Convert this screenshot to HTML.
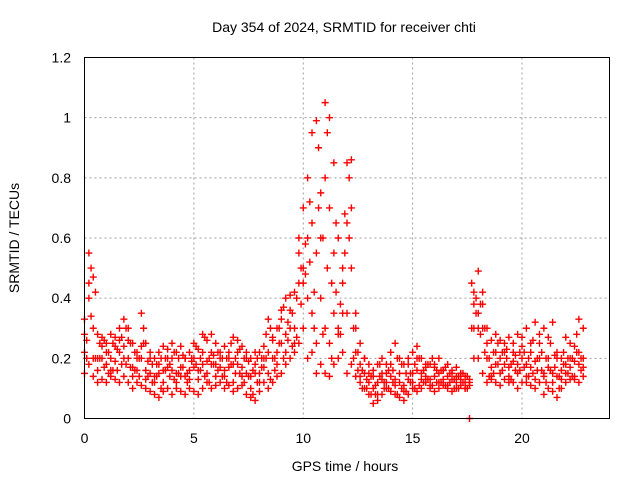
<!DOCTYPE html>
<html><head><meta charset="utf-8"><style>
body{margin:0;background:#fff}
svg{display:block;font-family:"Liberation Sans",sans-serif}
</style></head><body>
<svg id="chart" width="640" height="480">
<text x="344" y="32" text-anchor="middle" font-size="14">Day 354 of 2024, SRMTID for receiver chti</text>
<text x="345" y="471" text-anchor="middle" font-size="14">GPS time / hours</text>
<text transform="translate(19,238) rotate(-90)" text-anchor="middle" font-size="14">SRMTID / TECUs</text>
<g id="grid"></g><g id="ticks"></g><g id="marks"></g>
<rect x="84.5" y="57.5" width="525" height="361" fill="none" stroke="#000"/>
</svg>
<script>
const xTicks=[0,5,10,15,20];
const yTicks=[0,0.2,0.4,0.6,0.8,1,1.2];
const yTickLabels=["0","0.2","0.4","0.6","0.8","1","1.2"];
const times=[0,0.2,0.4,0.6,0.8,1,1.2,1.4,1.6,1.8,2,2.2,2.4,2.6,2.8,3,3.2,3.4,3.6,3.8,4,4.2,4.4,4.6,4.8,5,5.2,5.4,5.6,5.8,6,6.2,6.4,6.6,6.8,7,7.2,7.4,7.6,7.8,8,8.2,8.4,8.6,8.8,9,9.2,9.4,9.6,9.8,10,10.2,10.4,10.6,10.8,11,11.2,11.4,11.6,11.8,12,12.2,12.4,12.6,12.8,13,13.2,13.4,13.6,13.8,14,14.2,14.4,14.6,14.8,15,15.2,15.4,15.6,15.8,16,16.2,16.4,16.6,16.8,17,17.2,17.4,17.6,17.8,18,18.2,18.4,18.6,18.8,19,19.2,19.4,19.6,19.8,20,20.2,20.4,20.6,20.8,21,21.2,21.4,21.6,21.8,22,22.2,22.4,22.6,22.8];
const hiVals=[0.33,0.55,0.47,0.28,0.27,0.25,0.28,0.27,0.3,0.33,0.3,0.25,0.22,0.35,0.25,0.22,0.2,0.22,0.24,0.23,0.25,0.22,0.24,0.2,0.22,0.25,0.23,0.28,0.26,0.28,0.25,0.22,0.24,0.22,0.27,0.26,0.24,0.22,0.2,0.22,0.22,0.24,0.33,0.27,0.3,0.36,0.4,0.41,0.42,0.6,0.7,0.8,0.95,0.99,0.75,1.05,1.0,0.85,0.6,0.45,0.85,0.86,0.35,0.25,0.2,0.18,0.16,0.18,0.2,0.18,0.22,0.25,0.2,0.18,0.2,0.22,0.24,0.2,0.18,0.18,0.17,0.2,0.16,0.18,0.16,0.17,0.15,0.14,0.12,0.38,0.49,0.42,0.3,0.26,0.28,0.26,0.25,0.27,0.25,0.28,0.27,0.3,0.25,0.32,0.28,0.3,0.27,0.32,0.22,0.2,0.27,0.25,0.24,0.33,0.3];
const loVals=[0.15,0.18,0.14,0.12,0.13,0.12,0.14,0.13,0.12,0.14,0.12,0.1,0.12,0.11,0.1,0.09,0.08,0.07,0.09,0.1,0.08,0.1,0.09,0.08,0.1,0.09,0.08,0.1,0.12,0.1,0.11,0.12,0.1,0.11,0.09,0.1,0.11,0.08,0.07,0.06,0.09,0.12,0.1,0.12,0.14,0.15,0.18,0.2,0.22,0.25,0.3,0.2,0.22,0.15,0.18,0.15,0.14,0.18,0.2,0.22,0.15,0.18,0.14,0.12,0.1,0.08,0.05,0.06,0.08,0.1,0.09,0.08,0.07,0.06,0.08,0.1,0.09,0.1,0.12,0.1,0.09,0.1,0.11,0.1,0.09,0.1,0.11,0.1,0.0,0.2,0.2,0.15,0.12,0.13,0.12,0.11,0.13,0.12,0.12,0.1,0.12,0.12,0.11,0.1,0.12,0.08,0.1,0.09,0.07,0.1,0.12,0.13,0.14,0.12,0.14];
const midVals=[0.22,0.4,0.3,0.2,0.2,0.18,0.2,0.19,0.22,0.24,0.2,0.17,0.16,0.2,0.16,0.15,0.14,0.15,0.16,0.17,0.16,0.15,0.17,0.14,0.16,0.17,0.16,0.18,0.19,0.18,0.18,0.17,0.16,0.17,0.18,0.18,0.17,0.15,0.14,0.15,0.15,0.17,0.22,0.2,0.22,0.25,0.28,0.3,0.3,0.45,0.5,0.6,0.35,0.55,0.4,0.3,0.7,0.35,0.3,0.35,0.65,0.5,0.22,0.18,0.15,0.12,0.1,0.12,0.13,0.15,0.14,0.13,0.12,0.11,0.13,0.15,0.16,0.15,0.14,0.13,0.14,0.15,0.13,0.14,0.13,0.14,0.13,0.12,0.11,0.3,0.35,0.3,0.2,0.17,0.18,0.2,0.18,0.17,0.19,0.18,0.2,0.18,0.17,0.19,0.2,0.15,0.17,0.15,0.14,0.16,0.18,0.17,0.19,0.18,0.2];
const mid2Vals=[0.28,0.45,0.2,0.16,0.24,0.22,0.16,0.24,0.26,0.2,0.26,0.14,0.2,0.24,0.13,0.2,0.12,0.18,0.12,0.2,0.2,0.12,0.14,0.2,0.13,0.2,0.13,0.22,0.15,0.22,0.14,0.2,0.14,0.2,0.12,0.22,0.14,0.2,0.1,0.18,0.12,0.2,0.15,0.26,0.18,0.33,0.22,0.36,0.25,0.55,0.45,0.4,0.65,0.25,0.6,0.8,0.25,0.55,0.28,0.5,0.35,0.7,0.3,0.14,0.2,0.15,0.14,0.08,0.15,0.12,0.18,0.11,0.15,0.09,0.18,0.12,0.2,0.13,0.17,0.11,0.18,0.12,0.16,0.11,0.15,0.12,0.15,0.1,0.13,0.42,0.3,0.38,0.25,0.14,0.22,0.15,0.22,0.14,0.22,0.15,0.24,0.14,0.22,0.13,0.25,0.14,0.2,0.12,0.2,0.13,0.15,0.2,0.13,0.22,0.17];
const times2=[0.1,0.3,0.5,0.7,0.9,1.1,1.3,1.5,1.7,1.9,2.1,2.3,2.5,2.7,2.9,3.1,3.3,3.5,3.7,3.9,4.1,4.3,4.5,4.7,4.9,5.1,5.3,5.5,5.7,5.9,6.1,6.3,6.5,6.7,6.9,7.1,7.3,7.5,7.7,7.9,8.1,8.3,8.5,8.7,8.9,9.1,9.3,9.5,9.7,9.9,10.1,10.3,10.5,10.7,10.9,11.1,11.3,11.5,11.7,11.9,12.1,12.3,12.5,12.7,12.9,13.1,13.3,13.5,13.7,13.9,14.1,14.3,14.5,14.7,14.9,15.1,15.3,15.5,15.7,15.9,16.1,16.3,16.5,16.7,16.9,17.1,17.3,17.5,17.7,17.9,18.1,18.3,18.5,18.7,18.9,19.1,19.3,19.5,19.7,19.9,20.1,20.3,20.5,20.7,20.9,21.1,21.3,21.5,21.7,21.9,22.1,22.3,22.5,22.7];
const aVals=[0.2,0.5,0.42,0.25,0.17,0.22,0.16,0.23,0.18,0.3,0.17,0.22,0.14,0.3,0.19,0.12,0.18,0.1,0.2,0.14,0.22,0.15,0.21,0.12,0.19,0.24,0.16,0.27,0.12,0.21,0.16,0.2,0.12,0.25,0.15,0.23,0.12,0.19,0.08,0.2,0.17,0.28,0.13,0.2,0.3,0.37,0.26,0.35,0.4,0.5,0.58,0.72,0.42,0.9,0.6,0.95,0.45,0.65,0.38,0.68,0.8,0.3,0.16,0.1,0.13,0.08,0.11,0.14,0.1,0.16,0.12,0.2,0.1,0.15,0.12,0.18,0.11,0.16,0.13,0.2,0.12,0.16,0.11,0.15,0.1,0.14,0.12,0.1,0.45,0.35,0.38,0.22,0.2,0.15,0.25,0.16,0.23,0.13,0.21,0.16,0.22,0.14,0.26,0.16,0.22,0.12,0.25,0.17,0.1,0.22,0.15,0.2,0.28,0.16];
const bVals=[0.26,0.34,0.2,0.2,0.26,0.15,0.25,0.16,0.27,0.18,0.25,0.16,0.2,0.25,0.14,0.18,0.14,0.2,0.16,0.18,0.13,0.2,0.17,0.15,0.2,0.18,0.2,0.14,0.2,0.18,0.22,0.14,0.2,0.18,0.2,0.15,0.2,0.14,0.16,0.12,0.2,0.2,0.3,0.16,0.25,0.2,0.32,0.24,0.27,0.38,0.48,0.52,0.3,0.7,0.28,0.5,0.2,0.42,0.28,0.55,0.6,0.2,0.22,0.16,0.1,0.14,0.08,0.18,0.12,0.1,0.16,0.08,0.18,0.09,0.15,0.1,0.2,0.12,0.18,0.11,0.16,0.12,0.17,0.12,0.13,0.1,0.15,0.14,0.3,0.4,0.28,0.3,0.14,0.22,0.18,0.22,0.2,0.18,0.16,0.22,0.17,0.2,0.15,0.2,0.16,0.2,0.16,0.21,0.14,0.18,0.2,0.14,0.22,0.2];
const NS="http://www.w3.org/2000/svg";
const X0=84.5,X1=609.5,Y0=418.5,Y1=57.5;
function xs(v){return X0+(v/24)*(X1-X0);}
function ys(v){return Y0-(v/1.2)*(Y0-Y1);}
function mk(tag,attrs,parent){const e=document.createElementNS(NS,tag);for(const k in attrs)e.setAttribute(k,attrs[k]);parent.appendChild(e);return e;}
const grid=document.getElementById('grid'),ticks=document.getElementById('ticks'),marks=document.getElementById('marks');
xTicks.forEach(t=>{
 const x=xs(t);
 if(t>0){const g=mk('line',{x1:x,x2:x,y1:Y1,y2:Y0,stroke:'#a0a0a0','stroke-dasharray':'2,3'},grid);
 
 }
 const l=mk('text',{x:x,y:443,'text-anchor':'middle','font-size':'14'},ticks);l.textContent=t;
 
 
});
yTicks.forEach((t,i)=>{
 const y=ys(t);
 if(t>0&&t<1.2){const g=mk('line',{x1:X0,x2:X1,y1:y,y2:y,stroke:'#a0a0a0','stroke-dasharray':'2,3'},grid);
 
 }
 const l=mk('text',{x:71,y:y+5,'text-anchor':'end','font-size':'14'},ticks);l.textContent=yTickLabels[i];
 
 
});
function plus(t,v,color){
 const x=xs(t),y=ys(v);
 const p=mk('path',{d:`M${x-3.5},${y}H${x+3.5}M${x},${y-3.5}V${y+3.5}`,stroke:color,'stroke-width':'1.4',fill:'none'},marks);
 
 
}
[loVals,midVals,mid2Vals,hiVals].forEach(arr=>{
 times.forEach((t,i)=>{if(arr[i]!==undefined)plus(t,arr[i],'#ff0000');});
});
[aVals,bVals].forEach(arr=>{
 times2.forEach((t,i)=>{if(arr[i]!==undefined)plus(t,arr[i],'#ff0000');});
});
</script>
</body></html>
